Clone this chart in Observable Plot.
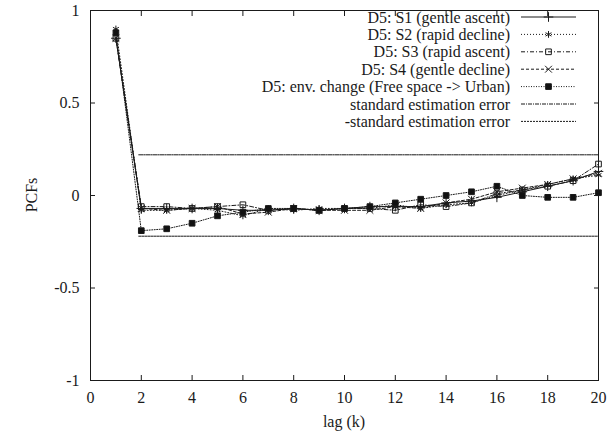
<!DOCTYPE html>
<html>
<head>
<meta charset="utf-8">
<script src="https://cdn.jsdelivr.net/npm/d3@7"></script>
<script src="https://cdn.jsdelivr.net/npm/@observablehq/plot@0.6"></script>
<style>
  html, body { margin: 0; padding: 0; background: #fff; }
  #chart { width: 616px; height: 436px; }
</style>
</head>
<body>
<div id="chart"></div>
<script>
const lags = [1,2,3,4,5,6,7,8,9,10,11,12,13,14,15,16,17,18,19,20];
const s1  = [0.85,-0.07,-0.07,-0.07,-0.07,-0.08,-0.08,-0.07,-0.08,-0.07,-0.06,-0.06,-0.06,-0.04,-0.03,-0.01,0.02,0.05,0.08,0.13];
const s2  = [0.90,-0.08,-0.08,-0.07,-0.08,-0.11,-0.07,-0.08,-0.07,-0.07,-0.07,-0.05,-0.07,-0.05,-0.04,0.00,0.03,0.06,0.09,0.11];
const s3  = [0.85,-0.06,-0.06,-0.07,-0.06,-0.05,-0.08,-0.07,-0.08,-0.07,-0.07,-0.08,-0.05,-0.06,-0.04,0.01,0.03,0.05,0.08,0.17];
const s4  = [0.85,-0.07,-0.08,-0.07,-0.06,-0.10,-0.09,-0.07,-0.08,-0.08,-0.08,-0.06,-0.07,-0.04,-0.02,0.02,0.04,0.06,0.09,0.12];
const env = [0.88,-0.19,-0.18,-0.15,-0.11,-0.09,-0.07,-0.07,-0.08,-0.07,-0.06,-0.04,-0.02,0.00,0.02,0.05,0.00,-0.01,-0.01,0.015];
const errLags = [1.9, 20];
const errValue = 0.22;
const xTicks = [0,2,4,6,8,10,12,14,16,18,20];
const yTicks = [-1,-0.5,0,0.5,1];
const seriesNames = [
  "D5: S1 (gentle ascent)",
  "D5: S2 (rapid decline)",
  "D5: S3 (rapid ascent)",
  "D5: S4 (gentle decline)",
  "D5: env. change (Free space -> Urban)",
  "standard estimation error",
  "-standard estimation error"
];

const styles = [
  {dash: null,       symbol: "plus",     fill: "none"},
  {dash: "1,2",      symbol: "asterisk", fill: "none"},
  {dash: "4,2,1,2",  symbol: "square",   fill: "none"},
  {dash: "3,2",      symbol: "times",    fill: "none"},
  {dash: "1,1.5",    symbol: "square",   fill: "#111"},
  {dash: "4,1,1,1",  symbol: null,       fill: "none"},
  {dash: "2,1",      symbol: null,       fill: "none"}
];
const seriesValues = [s1, s2, s3, s4, env];
const series = seriesValues.map((vals, i) => lags.map((k, j) => ({k, v: vals[j], i})));
const errUp = errLags.map(k => ({k, v: errValue}));
const errDn = errLags.map(k => ({k, v: -errValue}));

const font = "Liberation Serif";
const ink = "#1a1a1a";
const fs = 16;

const marks = [
  Plot.frame({stroke: ink, strokeWidth: 1}),
  Plot.axisX({ticks: xTicks, tickSize: 0, tickPadding: 11, label: null, fontSize: fs}),
  Plot.axisX({ticks: xTicks, tickSize: -5, tickFormat: () => "", label: null, stroke: ink}),
  Plot.axisX({ticks: xTicks, anchor: "top", tickSize: -5, tickFormat: () => "", label: null, stroke: ink}),
  Plot.axisY({ticks: yTicks, tickSize: 0, tickPadding: 11, label: null, fontSize: fs, tickFormat: d => String(d)}),
  Plot.axisY({ticks: yTicks, tickSize: -5, tickFormat: () => "", label: null, stroke: ink}),
  Plot.axisY({ticks: yTicks, anchor: "right", tickSize: -5, tickFormat: () => "", label: null, stroke: ink}),
  Plot.line(errUp, {x: "k", y: "v", stroke: ink, strokeWidth: 1, strokeDasharray: styles[5].dash}),
  Plot.line(errDn, {x: "k", y: "v", stroke: ink, strokeWidth: 1, strokeDasharray: styles[6].dash}),
];
series.forEach((data, i) => {
  const st = styles[i];
  marks.push(Plot.line(data, {x: "k", y: "v", stroke: ink, strokeWidth: 1, strokeDasharray: st.dash}));
  marks.push(Plot.dot(data, {x: "k", y: "v", symbol: () => st.symbol, r: 3.2, stroke: ink, strokeWidth: 1, fill: st.fill}));
});

const chart = Plot.plot({
  width: 616,
  height: 436,
  marginLeft: 90,
  marginRight: 18,
  marginTop: 10,
  marginBottom: 56,
  style: {fontFamily: font, fontSize: fs + "px", color: ink, background: "#fff"},
  x: {domain: [0, 20]},
  y: {domain: [-1, 1]},
  marks
});

const svg = d3.select(chart);
svg.append("text")
  .attr("x", (90 + 598) / 2).attr("y", 427)
  .attr("text-anchor", "middle")
  .attr("font-size", fs).attr("fill", ink)
  .text("lag (k)");
svg.append("text")
  .attr("transform", "translate(37,195) rotate(-90)")
  .attr("text-anchor", "middle")
  .attr("font-size", fs).attr("fill", ink)
  .text("PCFs");

// legend (inside frame, top right)
const symMap = {plus: d3.symbolPlus, asterisk: d3.symbolAsterisk, square: d3.symbolSquare, times: d3.symbolTimes};
const lg = svg.append("g");
seriesNames.forEach((name, i) => {
  const y = 17 + i * 17.4;
  const st = styles[i];
  lg.append("text")
    .attr("x", 510).attr("y", y).attr("dy", "0.35em")
    .attr("text-anchor", "end")
    .attr("font-size", fs).attr("fill", ink)
    .text(name);
  lg.append("line")
    .attr("x1", 521).attr("x2", 576).attr("y1", y).attr("y2", y)
    .attr("stroke", ink).attr("stroke-width", 1)
    .attr("stroke-dasharray", st.dash);
  if (st.symbol) {
    lg.append("path")
      .attr("transform", `translate(548.5,${y})`)
      .attr("d", d3.symbol(symMap[st.symbol], Math.PI * 3.2 * 3.2)())
      .attr("stroke", ink).attr("stroke-width", 1)
      .attr("fill", st.fill);
  }
});

svg.attr("font-family", font).style("font-family", font);
svg.selectAll("g, text").attr("font-family", font).style("font-family", font);

document.getElementById("chart").appendChild(chart);
</script>
</body>
</html>
